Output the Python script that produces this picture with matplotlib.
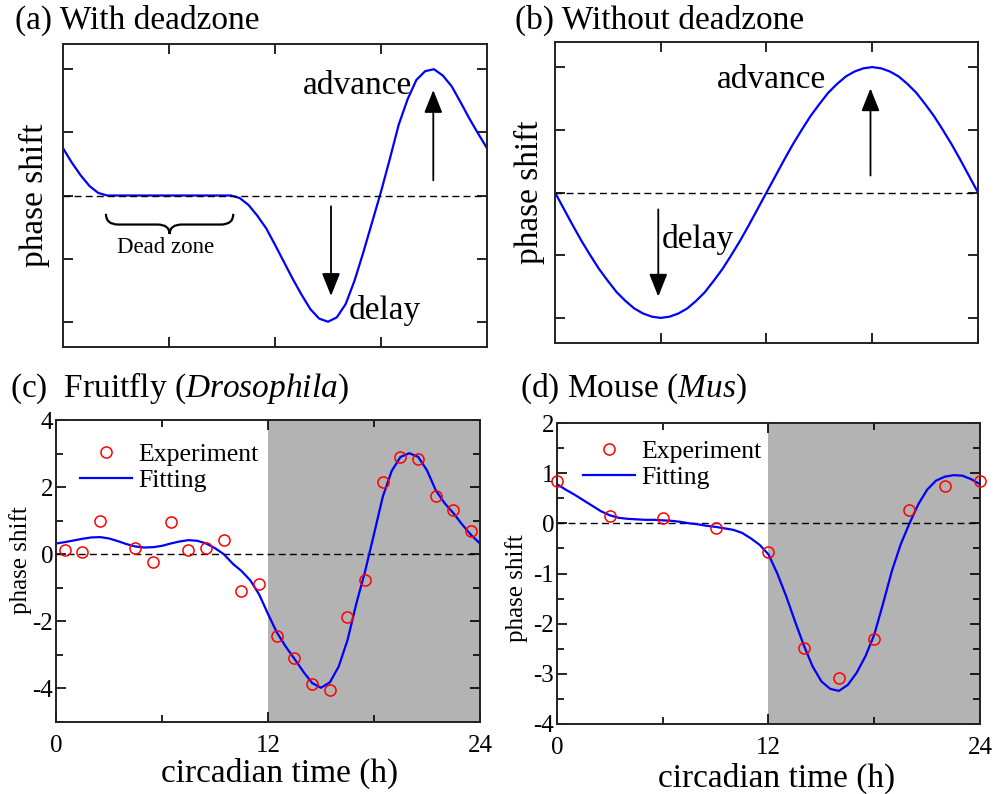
import numpy as np
import matplotlib
matplotlib.use("Agg")
from matplotlib import pyplot as plt
from matplotlib.path import Path
from matplotlib.patches import PathPatch

plt.rcParams['font.family'] = ['Liberation Serif', 'DejaVu Serif']
plt.rcParams['mathtext.fontset'] = 'custom'
plt.rcParams['mathtext.rm'] = 'Liberation Serif'
plt.rcParams['mathtext.it'] = 'Liberation Serif:italic'

# --- schematic curves (every 0.5 h) ---
t_half = np.arange(0, 24.01, 0.5)

prc_deadzone = [0.75, 0.52, 0.32, 0.15, 0.04, 0.0, 0.0, 0.0, 0.0, 0.0,
                0.0, 0.0, 0.0, 0.0, 0.0, 0.0, 0.0, 0.0, 0.0, 0.0,
                -0.04, -0.15, -0.32, -0.52, -0.78, -1.05, -1.32, -1.57, -1.80, -1.95,
                -2.0, -1.93, -1.72, -1.35, -0.90, -0.42, 0.06, 0.58, 1.12, 1.52,
                1.83, 1.97, 2.0, 1.90, 1.73, 1.48, 1.22, 0.98, 0.75]

prc_no_deadzone = [0.0, -0.26, -0.52, -0.77, -1.0, -1.22, -1.41, -1.59, -1.73, -1.85,
                   -1.93, -1.98, -2.0, -1.98, -1.93, -1.85, -1.73, -1.59, -1.41, -1.22,
                   -1.0, -0.77, -0.52, -0.26, 0.0, 0.26, 0.52, 0.77, 1.0, 1.22,
                   1.41, 1.59, 1.73, 1.85, 1.93, 1.98, 2.0, 1.98, 1.93, 1.85,
                   1.73, 1.59, 1.41, 1.22, 1.0, 0.77, 0.52, 0.26, 0.0]

# --- fruitfly (Drosophila) ---
fly_ct = [0.5, 1.5, 2.5, 4.5, 5.5, 6.5, 7.5, 8.5, 9.5, 10.5, 11.5, 12.5,
          13.5, 14.5, 15.5, 16.5, 17.5, 18.5, 19.5, 20.5, 21.5, 22.5, 23.5]
fly_exp = [0.14, 0.07, 0.98, 0.19, -0.23, 0.96, 0.13, 0.19, 0.43, -1.09, -0.88, -2.45,
           -3.10, -3.86, -4.06, -1.88, -0.76, 2.14, 2.89, 2.84, 1.75, 1.33, 0.70]
fly_fit = [0.32, 0.36, 0.41, 0.46, 0.50, 0.51, 0.47, 0.39, 0.30, 0.23,
           0.20, 0.21, 0.25, 0.32, 0.38, 0.42, 0.40, 0.32, 0.18, 0.0,
           -0.28, -0.50, -0.78, -1.20, -1.78, -2.33, -2.75, -3.12, -3.50, -3.84,
           -3.98, -3.82, -3.35, -2.56, -1.47, -0.50, 0.60, 1.72, 2.48, 2.90,
           3.01, 2.90, 2.50, 1.90, 1.52, 1.22, 0.88, 0.57, 0.32]

# --- mouse (Mus) ---
mus_ct = [0, 3, 6, 9, 12, 14, 16, 18, 20, 22, 24]
mus_exp = [0.85, 0.15, 0.11, -0.10, -0.58, -2.48, -3.09, -2.31, 0.26, 0.74, 0.85]
mus_fit = [0.78, 0.67, 0.57, 0.46, 0.35, 0.24, 0.16, 0.11, 0.09, 0.08,
           0.07, 0.07, 0.06, 0.05, 0.03, 0.0, -0.02, -0.05, -0.07, -0.10,
           -0.13, -0.19, -0.30, -0.43, -0.62, -1.0, -1.45, -1.95, -2.43, -2.85,
           -3.15, -3.30, -3.34, -3.22, -2.98, -2.65, -2.22, -1.60, -0.95, -0.42,
           0.0, 0.38, 0.67, 0.85, 0.93, 0.96, 0.95, 0.88, 0.78]

deadzone = (2.43, 9.64)

W, H = 995, 794
fig = plt.figure(figsize=(W / 100, H / 100), dpi=100)


def add_ax(left, right, top, bottom):
    return fig.add_axes([left / W, 1 - bottom / H, (right - left) / W, (bottom - top) / H])


def frame(ax):
    for s in ax.spines.values():
        s.set_linewidth(1.4)
        s.set_color('#222222')
    ax.tick_params(which='both', direction='in', top=True, right=True, width=1.2)
    ax.tick_params(which='major', length=7)
    ax.tick_params(which='minor', length=5)


arrow_kw = dict(arrowstyle='-|>,head_length=0.7,head_width=0.28', color='k', lw=1.3,
                mutation_scale=20, shrinkA=0, shrinkB=0)

# (a) with deadzone
axa = add_ax(63, 487, 44, 347)
axa.plot(t_half, prc_deadzone, color='#0000ff', lw=1.6)
axa.axhline(0, color='k', lw=1, ls='--', dashes=(5, 3))
axa.set_xlim(0, 24)
axa.set_ylim(-2.4, 2.4)
axa.set_xticks([6, 12, 18])
axa.set_yticks([-2, -1, 0, 1, 2])
axa.set_xticklabels([])
axa.set_yticklabels([])
frame(axa)
axa.set_ylabel('phase shift', fontsize=24)
axa.yaxis.set_label_coords(-0.03, 0.5)
axa.annotate('', xy=(20.96, 1.67), xytext=(20.96, 0.24), arrowprops=arrow_kw)
axa.annotate('', xy=(15.17, -1.59), xytext=(15.17, -0.17), arrowprops=arrow_kw)
axa.text(13.6, 1.6, 'advance', fontsize=24, va='baseline')
axa.text(16.15, -1.96, 'delay', fontsize=24, va='baseline')
x0, x1 = deadzone
xc = (x0 + x1) / 2
ytop, ymid, ytip = -0.29, -0.46, -0.61
brace = Path([(x0, ytop), (x0, ymid), (x0 + 0.7, ymid), (xc - 0.7, ymid),
              (xc, ymid), (xc, ytip), (xc, ymid), (xc + 0.7, ymid),
              (x1 - 0.7, ymid), (x1, ymid), (x1, ytop)],
             [Path.MOVETO, Path.CURVE3, Path.CURVE3, Path.LINETO,
              Path.CURVE3, Path.CURVE3, Path.CURVE3, Path.CURVE3,
              Path.LINETO, Path.CURVE3, Path.CURVE3])
axa.add_patch(PathPatch(brace, fill=False, lw=1.6, color='k'))
axa.text(xc - 0.25, -0.83, 'Dead zone', fontsize=16.5, ha='center', va='center')
fig.text(15 / W, 1 - 29 / H, '(a) With deadzone', fontsize=24, va='baseline')

# (b) without deadzone
axb = add_ax(555, 978, 42, 343)
axb.plot(t_half, prc_no_deadzone, color='#0000ff', lw=1.6)
axb.axhline(0, color='k', lw=1, ls='--', dashes=(5, 3))
axb.set_xlim(0, 24)
axb.set_ylim(-2.4, 2.4)
axb.set_xticks([6, 12, 18, 24])
axb.set_yticks([-2, -1, 0, 1, 2])
axb.set_xticklabels([])
axb.set_yticklabels([])
frame(axb)
axb.set_ylabel('phase shift', fontsize=24)
axb.yaxis.set_label_coords(-0.024, 0.5)
axb.annotate('', xy=(17.9, 1.66), xytext=(17.9, 0.27), arrowprops=arrow_kw)
axb.annotate('', xy=(5.86, -1.66), xytext=(5.86, -0.27), arrowprops=arrow_kw)
axb.text(9.17, 1.66, 'advance', fontsize=24, va='baseline')
axb.text(6.05, -0.89, 'delay', fontsize=24, va='baseline')
fig.text(515 / W, 1 - 29 / H, '(b) Without deadzone', fontsize=24, va='baseline')


def data_panel(ax, ct, exp, fit, ylim, major, minor):
    ax.axvspan(12, 24, color='#b3b3b3', lw=0, zorder=0)
    ax.axhline(0, color='k', lw=1, ls='--', dashes=(5, 3), zorder=1)
    ax.plot(ct, exp, 'o', mfc='none', mec='red', ms=8, mew=1.1, label='Experiment',
            zorder=3, clip_on=False)
    ax.plot(t_half, fit, color='#0000ff', lw=1.6, label='Fitting', zorder=2)
    ax.set_xlim(0, 24)
    ax.set_ylim(*ylim)
    ax.set_xticks([0, 12, 24])
    ax.set_xticks([6, 18], minor=True)
    ax.set_yticks(major)
    ax.set_yticks(minor, minor=True)
    ax.set_yticklabels([str(v) for v in major])
    frame(ax)
    ax.tick_params(axis='x', labelsize=18, pad=9)
    ax.tick_params(axis='y', labelsize=18, pad=2)
    ax.set_xlabel('circadian time (h)', fontsize=24)
    ax.set_ylabel('phase shift', fontsize=18)


leg_kw = dict(loc='upper left', frameon=False, fontsize=18.5, handlelength=2.0,
              handletextpad=0.25, labelspacing=0.15, borderpad=0, borderaxespad=0)

# (c) fruitfly
axc = add_ax(56, 480, 420, 722)
data_panel(axc, fly_ct, fly_exp, fly_fit, (-5, 4), [-4, -2, 0, 2, 4], [-5, -3, -1, 1, 3])
axc.yaxis.set_label_coords(-0.056, 0.535)
axc.xaxis.set_label_coords(0.528, -0.118)
axc.xaxis.label.set_va('top')
axc.legend(bbox_to_anchor=(0.057, 0.925), **leg_kw)
fig.text(10 / W, 1 - 397 / H, r'(c)  Fruitfly ($\mathit{Drosophila}$)', fontsize=24,
         va='baseline')

# (d) mouse
axd = add_ax(557, 980, 423, 724)
data_panel(axd, mus_ct, mus_exp, mus_fit, (-4, 2), [-4, -3, -2, -1, 0, 1, 2],
           [-3.5, -2.5, -1.5, -0.5, 0.5, 1.5])
axd.yaxis.set_label_coords(-0.068, 0.45)
axd.xaxis.set_label_coords(0.518, -0.128)
axd.xaxis.label.set_va('top')
axd.legend(bbox_to_anchor=(0.062, 0.945), **leg_kw)
fig.text(520 / W, 1 - 397 / H, r'(d) Mouse ($\mathit{Mus}$)', fontsize=24, va='baseline')

fig.savefig('out.png', dpi=100)
